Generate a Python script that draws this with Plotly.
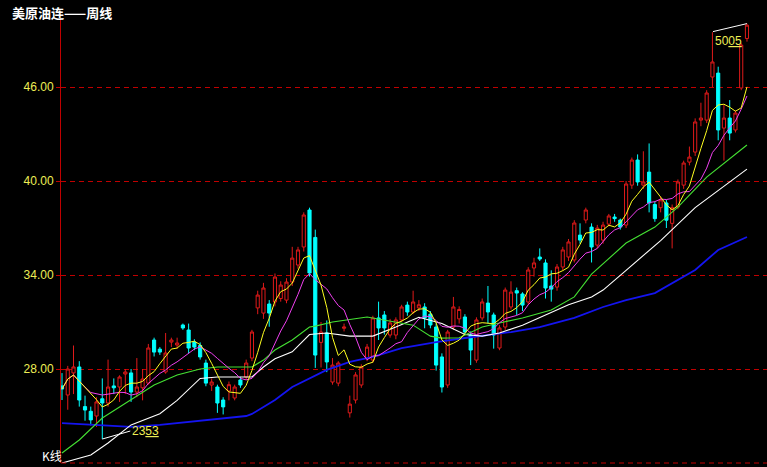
import plotly.graph_objects as go

title_text = "美原油连——周线"
corner_text = "K线"

open_ = [26.92, 26.34, 27.75, 28.13, 25.60, 25.30, 25.00, 26.10, 25.83, 26.92,
         26.85, 27.68, 27.75, 26.53, 26.80, 27.10, 29.85, 29.27, 27.81, 29.72,
         29.53, 30.81, 30.49, 29.72, 29.50, 28.38, 26.98, 26.85, 26.02, 26.60,
         26.15, 27.30, 27.49, 28.70, 31.90, 31.57, 32.15, 32.28, 32.50, 32.40,
         33.55, 34.64, 35.79, 38.15, 36.40, 29.70, 30.30, 27.17, 27.10, 30.60,
         25.20, 26.02, 26.98, 28.70, 28.57, 31.26, 31.45, 30.17, 30.17, 31.13,
         32.08, 31.64, 31.90, 31.96, 31.50, 30.68, 28.77, 26.98, 30.68, 31.20,
         31.32, 30.17, 28.57, 31.26, 32.21, 31.45, 29.34, 30.68, 31.96, 33.00,
         32.79, 32.28, 34.45, 35.15, 34.77, 33.30, 33.23, 34.51, 35.15, 34.96,
         36.55, 37.51, 37.06, 35.91, 36.23, 37.25, 37.70, 37.51, 37.19, 39.74,
         41.34, 39.74, 40.57, 38.50, 38.30, 38.60, 37.30, 38.34, 39.74, 41.21,
         41.85, 43.89, 43.89, 46.64, 46.89, 43.38, 44.02, 43.26, 45.94, 49.10]
high_ = [27.74, 28.20, 29.50, 28.50, 26.30, 25.60, 26.20, 27.40, 28.60, 27.40,
         27.60, 28.00, 28.00, 28.70, 28.00, 29.60, 30.00, 29.40, 30.30, 30.00,
         30.00, 30.90, 30.90, 29.90, 29.70, 28.60, 27.40, 27.00, 26.20, 27.20,
         27.00, 27.50, 28.60, 30.50, 33.00, 33.50, 32.40, 34.10, 33.60, 33.80,
         35.80, 35.80, 38.00, 38.30, 36.90, 31.00, 31.10, 28.70, 28.50, 30.90,
         26.30, 27.80, 28.30, 29.60, 31.40, 32.30, 31.70, 31.20, 31.30, 32.10,
         32.30, 33.00, 32.40, 32.20, 31.70, 30.90, 29.00, 30.50, 32.60, 32.00,
         31.50, 30.40, 31.30, 32.50, 33.30, 31.60, 30.80, 33.20, 33.60, 33.20,
         32.90, 34.50, 35.10, 35.70, 35.00, 34.30, 34.70, 35.80, 36.30, 37.50,
         37.30, 38.30, 37.30, 37.20, 37.40, 37.90, 37.90, 37.60, 40.00, 41.50,
         41.70, 41.90, 42.40, 38.70, 39.00, 38.80, 38.50, 40.10, 41.30, 42.20,
         44.00, 45.00, 45.80, 49.50, 47.30, 44.85, 45.17, 44.50, 48.80, 50.05]
low_ = [26.02, 25.40, 26.40, 25.60, 24.70, 24.40, 24.30, 23.53, 25.60, 26.40,
        25.90, 26.40, 25.90, 26.20, 26.00, 27.00, 28.80, 28.90, 27.70, 29.40,
        29.30, 30.50, 29.00, 29.20, 28.60, 26.90, 26.60, 25.20, 25.10, 26.00,
        26.00, 26.80, 27.30, 28.50, 31.50, 31.20, 30.70, 32.00, 32.30, 32.20,
        33.30, 34.40, 35.50, 33.90, 28.07, 28.10, 27.80, 27.00, 26.90, 30.40,
        24.90, 25.80, 26.80, 28.50, 28.40, 29.85, 30.20, 30.00, 29.90, 31.00,
        31.40, 31.50, 31.70, 30.60, 30.60, 27.90, 26.50, 26.80, 30.50, 30.90,
        30.20, 28.25, 28.40, 31.10, 30.90, 29.30, 29.20, 30.50, 31.80, 31.45,
        31.70, 32.10, 33.90, 34.90, 32.50, 32.30, 33.00, 34.30, 34.90, 34.80,
        36.00, 37.30, 34.80, 35.70, 36.00, 37.10, 37.40, 36.90, 37.00, 39.50,
        39.70, 39.50, 38.00, 37.40, 38.00, 37.00, 35.70, 38.20, 39.50, 41.00,
        41.60, 43.50, 43.70, 46.00, 42.60, 41.30, 42.60, 43.10, 45.80, 48.90]
close_ = [26.72, 28.00, 28.13, 26.02, 25.38, 24.75, 25.90, 25.83, 26.85, 26.80,
          27.49, 27.81, 26.53, 26.85, 27.36, 29.34, 29.08, 29.08, 29.02, 29.85,
          29.66, 30.62, 29.34, 29.40, 28.77, 27.10, 27.17, 25.83, 25.58, 27.00,
          26.85, 26.98, 28.38, 30.36, 32.72, 33.17, 31.57, 33.87, 33.36, 33.55,
          35.08, 35.60, 37.83, 34.13, 28.89, 30.36, 28.45, 28.25, 28.38, 30.68,
          25.76, 27.62, 28.13, 29.40, 31.26, 30.62, 30.62, 30.94, 31.13, 31.96,
          31.64, 32.28, 32.10, 31.26, 30.81, 28.25, 26.85, 30.36, 31.96, 31.80,
          30.36, 29.21, 31.13, 32.28, 31.64, 30.17, 30.62, 33.04, 32.91, 32.85,
          32.08, 34.32, 34.77, 35.02, 33.17, 33.10, 34.51, 35.60, 36.11, 37.32,
          36.23, 38.15, 35.79, 37.00, 37.19, 37.77, 37.60, 37.06, 39.81, 41.34,
          39.94, 39.94, 38.60, 37.60, 38.80, 37.50, 38.30, 39.94, 41.15, 41.53,
          43.77, 44.02, 45.62, 47.60, 43.26, 44.02, 43.06, 44.34, 48.68, 49.95]

y_ticks = [28, 34, 40, 46]
y_tick_labels = ["28.00", "34.00", "40.00", "46.00"]

# moving-average lines (week index -> price)
green_idx = [0, 3, 7, 10, 14, 16, 20, 24, 27, 33, 35, 37, 40, 43, 44, 47, 53, 58,
             61, 64, 66, 69, 73, 76, 80, 85, 89, 92, 98, 103, 107, 112, 119]
green_val = [22.64, 23.47, 24.87, 25.57, 26.47, 26.98, 27.62, 28.00, 28.13, 28.13,
             28.57, 29.21, 29.85, 30.68, 30.74, 31.00, 31.32, 31.00, 30.80, 30.10,
             29.97, 30.00, 30.68, 30.94, 31.26, 31.77, 32.60, 34.06, 36.04, 37.06,
             38.34, 40.25, 42.30]
white_idx = [0, 5, 8, 12, 17, 20, 24, 27, 33, 35, 37, 40, 43, 46, 50, 54, 58, 62,
             66, 70, 73, 76, 80, 84, 88, 92, 94, 98, 104, 110, 114, 119]
white_val = [22.00, 22.51, 23.28, 24.43, 25.15, 26.00, 27.40, 27.49, 27.49, 28.13,
             28.65, 29.10, 30.20, 30.30, 30.10, 30.10, 30.68, 31.30, 30.90, 30.20,
             30.10, 30.30, 30.80, 31.45, 32.10, 32.60, 33.04, 34.30, 36.20, 38.30,
             39.40, 40.76]
blue_idx = [0, 7, 12, 17, 24, 29, 32, 33, 37, 40, 46, 50, 54, 59, 65, 70, 74, 78,
            83, 89, 94, 98, 103, 106, 110, 114, 119]
blue_val = [24.55, 24.43, 24.30, 24.43, 24.68, 24.87, 25.00, 25.13, 26.02, 26.85,
            27.94, 28.45, 28.77, 29.34, 29.72, 29.98, 30.17, 30.36, 30.68, 31.26,
            31.96, 32.40, 32.85, 33.49, 34.32, 35.60, 36.43]

n = len(close_)
xs = list(range(n))


def sma(vals, p):
    out = []
    for i in range(len(vals)):
        w = vals[max(0, i - p + 1):i + 1]
        out.append(sum(w) / len(w))
    return out


ma5 = sma(close_, 5)
ma10 = sma(close_, 10)

RED = "#e01a1a"
CYAN = "#00ffff"
GRID = "#c00000"

fig = go.Figure()
fig.add_trace(go.Candlestick(
    x=xs, open=open_, high=high_, low=low_, close=close_,
    increasing=dict(line=dict(color=RED, width=1), fillcolor="#000000"),
    decreasing=dict(line=dict(color=CYAN, width=1), fillcolor=CYAN),
    whiskerwidth=0, hoverinfo="skip", showlegend=False,
))
fig.add_trace(go.Scatter(x=blue_idx, y=blue_val, mode="lines",
                         line=dict(color="#1414f0", width=1.8), hoverinfo="skip", showlegend=False))
fig.add_trace(go.Scatter(x=white_idx, y=white_val, mode="lines",
                         line=dict(color="#ffffff", width=1.1), hoverinfo="skip", showlegend=False))
fig.add_trace(go.Scatter(x=green_idx, y=green_val, mode="lines",
                         line=dict(color="#44e033", width=1.1), hoverinfo="skip", showlegend=False))
fig.add_trace(go.Scatter(x=xs, y=ma10, mode="lines",
                         line=dict(color="#f040f0", width=1), hoverinfo="skip", showlegend=False))
fig.add_trace(go.Scatter(x=xs, y=ma5, mode="lines",
                         line=dict(color="#ffff20", width=1), hoverinfo="skip", showlegend=False))

i_hi = max(range(n), key=lambda i: high_[i])
i_lo = min(range(n), key=lambda i: low_[i])


def fmt(v):
    a, b = f"{v:.2f}".split(".")
    return f"{a}<u>{b}</u>"


annotations = [
    dict(x=i_hi, y=high_[i_hi], xref="x", yref="y", text=fmt(high_[i_hi]),
         showarrow=True, arrowhead=0, arrowwidth=1, arrowcolor="#ffffff",
         ax=-34, ay=8, xanchor="left", yanchor="top", standoff=0,
         font=dict(family="Liberation Sans", size=12, color="#eeee55")),
    dict(x=i_lo, y=low_[i_lo], xref="x", yref="y", text=fmt(low_[i_lo]),
         showarrow=True, arrowhead=0, arrowwidth=1, arrowcolor="#ffffff",
         ax=28, ay=-8, xanchor="left", yanchor="middle", standoff=0,
         font=dict(family="Liberation Sans", size=12, color="#eeee55")),
    dict(x=-0.0722, y=1.018, xref="paper", yref="paper", text=f"<b>{title_text}</b>",
         showarrow=False, xanchor="left", yanchor="middle",
         font=dict(family="Noto Sans CJK SC", size=13, color="#ffffff")),
    dict(x=-0.030, y=0.016, xref="paper", yref="paper", text=corner_text,
         showarrow=False, xanchor="left", yanchor="middle",
         font=dict(family="Noto Sans CJK SC", size=12, color="#ffffff")),
]

fig.update_layout(
    width=767, height=467,
    margin=dict(l=61, r=0, t=20, b=4),
    paper_bgcolor="#000000", plot_bgcolor="#000000",
    showlegend=False,
    boxgap=0.22,
    annotations=annotations,
    shapes=[dict(type="line", xref="paper", yref="paper", x0=0, x1=1, y0=0, y1=0,
                 line=dict(color=GRID, width=1, dash="5px,4px"))],
    xaxis=dict(range=[-0.174, 122.48], visible=False, rangeslider=dict(visible=False),
               showgrid=False, zeroline=False, fixedrange=True),
    yaxis=dict(range=[22.0, 50.28], tickvals=y_ticks, ticktext=y_tick_labels,
               tickfont=dict(family="Liberation Sans", size=12, color="#eeee55"),
               ticks="outside", ticklen=4, tickcolor="#c00000",
               showline=True, linecolor="#c00000", linewidth=1,
               showgrid=True, gridcolor=GRID, gridwidth=1, griddash="5px,4px",
               zeroline=False, fixedrange=True),
)

fig.write_html("out.html", config=dict(displayModeBar=False),
               post_script="document.body.style.margin='0';document.body.style.background='#000';")
